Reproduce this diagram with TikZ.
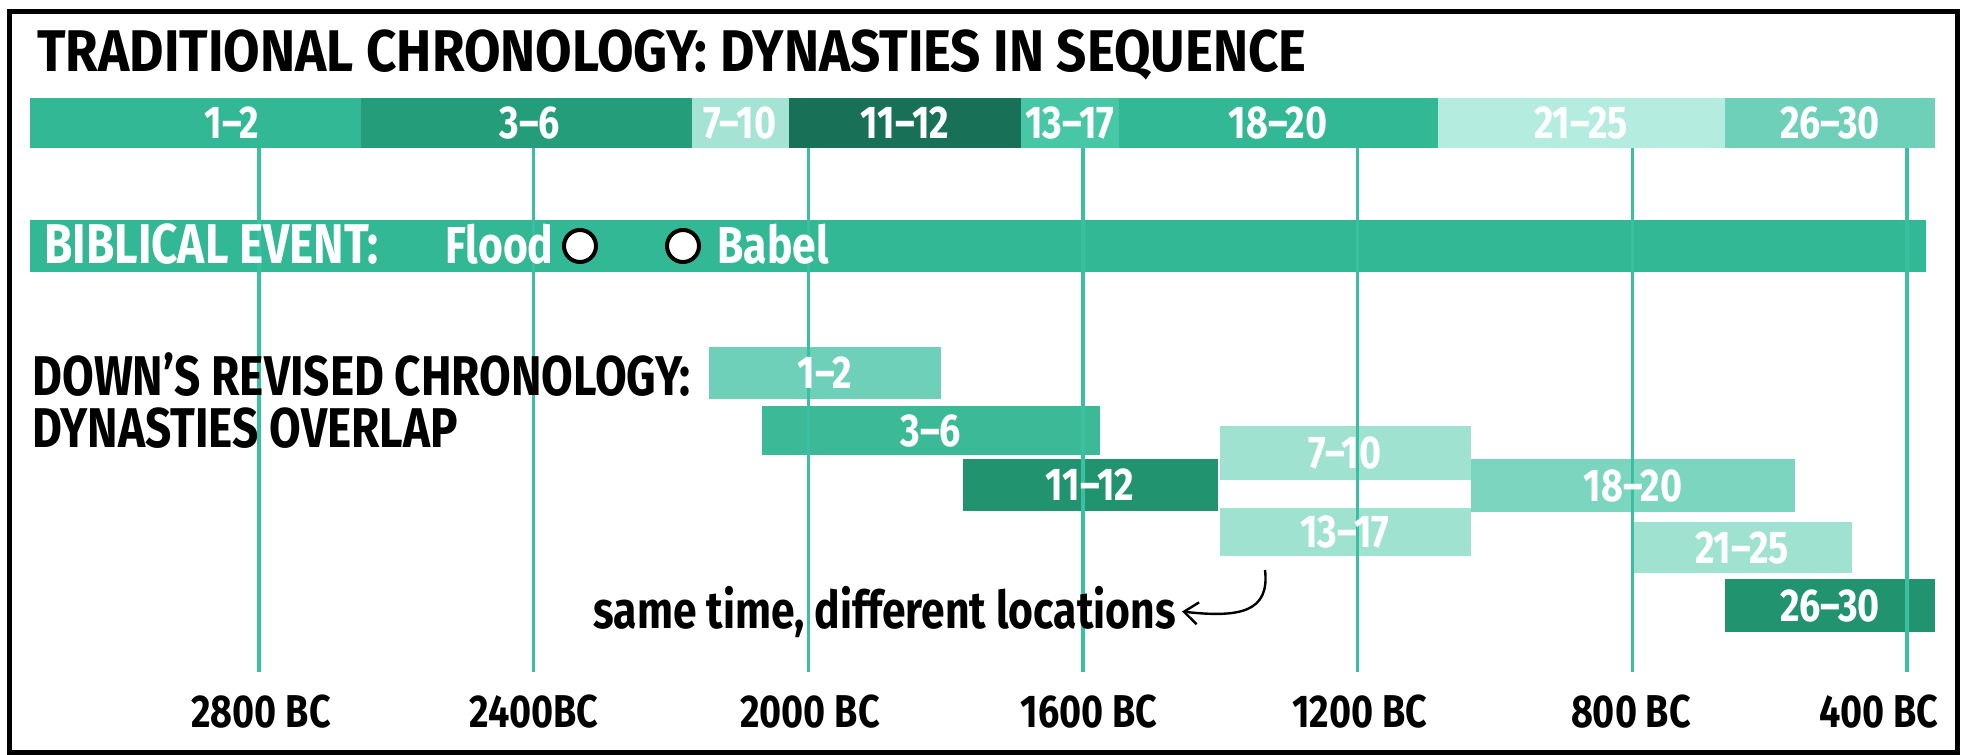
\documentclass[tikz,border=0pt]{standalone}
\usepackage{fontspec}
\setmainfont[FakeStretch=0.82]{Fira Sans}
\newfontfamily\widefont[FakeStretch=0.9]{Fira Sans}
\usepackage{tikz}
\usetikzlibrary{arrows.meta}

\definecolor{barMid}{RGB}{50,184,148}
\definecolor{barDeep}{RGB}{36,158,122}
\definecolor{barPale}{RGB}{165,228,212}
\definecolor{barDark}{RGB}{24,112,86}
\definecolor{barSoft}{RGB}{72,199,166}
\definecolor{barWash}{RGB}{180,236,224}
\definecolor{barLight}{RGB}{110,208,184}
\definecolor{lineTeal}{RGB}{60,190,160}
\definecolor{lowMid}{RGB}{60,186,152}
\definecolor{lowDark}{RGB}{33,148,111}
\definecolor{lowPale}{RGB}{160,226,208}
\definecolor{lowSoft}{RGB}{124,213,190}

\begin{document}
\begin{tikzpicture}[x=0.5pt, y=-0.5pt,
    barlabel/.style={text=white, font=\bfseries\fontsize{23}{23}\selectfont, inner sep=0pt},
    eventlabel/.style={text=white, font=\bfseries\fontsize{26}{26}\selectfont, inner sep=0pt, anchor=base west},
    headline/.style={font=\bfseries\fontsize{28}{28}\selectfont, inner sep=0pt, anchor=base west},
    yearlabel/.style={font=\bfseries\fontsize{23}{23}\selectfont, inner sep=0pt},
    eventdot/.style={circle, draw=black, fill=white, line width=2pt, minimum size=16pt, inner sep=0pt}]
    % Canvas and frame
    \useasboundingbox (0,0) rectangle (1966,755);
    \fill[white] (0,0) rectangle (1966,755);
    \draw[line width=2.5pt] (9,11) rectangle (1957,752);

    % Title
    \node[headline, font=\widefont\bfseries\fontsize{29.4}{29.4}\selectfont] (title) at (37,71) {TRADITIONAL CHRONOLOGY: DYNASTIES IN SEQUENCE};

    % Traditional sequence bar
    \fill[barMid] (30,98) rectangle (361,148);
    \fill[barDeep] (361,98) rectangle (692,148);
    \fill[barPale] (692,98) rectangle (789,148);
    \fill[barDark] (789,98) rectangle (1021,148);
    \fill[barSoft] (1021,98) rectangle (1119,148);
    \fill[barMid] (1119,98) rectangle (1438,148);
    \fill[barWash] (1438,98) rectangle (1725,148);
    \fill[barLight] (1725,98) rectangle (1935,148);

    % Biblical event bar
    \fill[barMid] (30,220) rectangle (1926,272);

    % Revised chronology bars
    \fill[barLight] (709,347) rectangle (941,399);
    \fill[lowMid] (762,406) rectangle (1100,455);
    \fill[lowDark] (963,459) rectangle (1218,511);
    \fill[lowPale] (1220,426) rectangle (1471,480);
    \fill[lowPale] (1220,508) rectangle (1471,556);
    \fill[lowSoft] (1471,459) rectangle (1795,512);
    \fill[lowPale] (1632,522) rectangle (1852,573);
    \fill[lowDark] (1725,579) rectangle (1935,632);

    % Time lines
    \foreach \k in {0,...,6}
        \draw[lineTeal, line width=1.75pt] (259+274.67*\k,148) -- (259+274.67*\k,672);

    % Dynasty labels, traditional
    \node[barlabel] (t12) at (232,123) {1--2};
    \node[barlabel] (t36) at (530,123) {3--6};
    \node[barlabel] (t710) at (740,123) {7--10};
    \node[barlabel] (t1112) at (905,123) {11--12};
    \node[barlabel] (t1317) at (1070,123) {13--17};
    \node[barlabel] (t1820) at (1278,123) {18--20};
    \node[barlabel] (t2125) at (1581,123) {21--25};
    \node[barlabel] (t2630) at (1830,123) {26--30};

    % Biblical events
    \node[eventlabel, font=\bfseries\fontsize{28}{28}\selectfont] (event) at (44,263) {BIBLICAL EVENT:};
    \node[eventlabel] (flood) at (445,263) {Flood};
    \node[eventdot] (floodDot) at (580,246) {};
    \node[eventdot] (babelDot) at (683,246) {};
    \node[eventlabel] (babel) at (717,263) {Babel};

    % Revised chronology heading
    \node[headline] (down1) at (32,395) {DOWN’S REVISED CHRONOLOGY:};
    \node[headline] (down2) at (32,447) {DYNASTIES OVERLAP};

    % Dynasty labels, revised
    \node[barlabel] (r12) at (825,373) {1--2};
    \node[barlabel] (r36) at (931,431) {3--6};
    \node[barlabel] (r1112) at (1090,485) {11--12};
    \node[barlabel] (r710) at (1345,453) {7--10};
    \node[barlabel] (r1317) at (1345,532) {13--17};
    \node[barlabel] (r1820) at (1633,486) {18--20};
    \node[barlabel] (r2125) at (1742,548) {21--25};
    \node[barlabel] (r2630) at (1830,606) {26--30};

    % Note with arrow
    \node[headline, font=\bfseries\fontsize{26}{26}\selectfont, anchor=base east] (note) at (1176,628) {same time, different locations};
    \coordinate (noteStart) at (1265,570);
    \draw[line width=1.2pt, -{Straight Barb[length=7pt,width=11pt]}] (noteStart) .. controls (1270,612) and (1240,618) .. ([xshift=3pt]note.east);

    % Year labels
    \node[yearlabel, anchor=base] (y2800) at (261,727) {2800 BC};
    \node[yearlabel, anchor=base] (y2400) at (534,727) {2400BC};
    \node[yearlabel, anchor=base] (y2000) at (810,727) {2000 BC};
    \node[yearlabel, anchor=base] (y1600) at (1089,727) {1600 BC};
    \node[yearlabel, anchor=base] (y1200) at (1360,727) {1200 BC};
    \node[yearlabel, anchor=base] (y800) at (1631,727) {800 BC};
    \node[yearlabel, anchor=base east] (y400) at (1939,727) {400 BC};
\end{tikzpicture}
\end{document}
